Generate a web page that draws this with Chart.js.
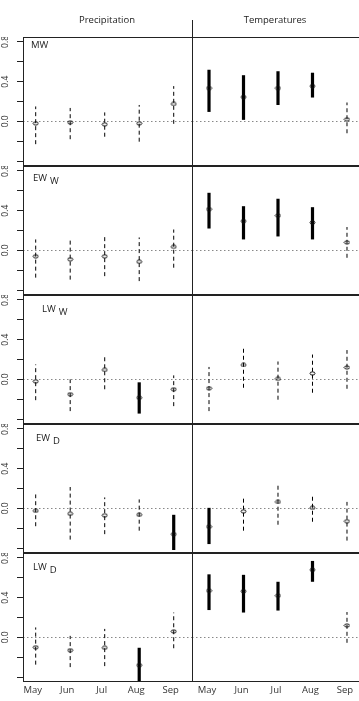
<!DOCTYPE html>
<html>
<head>
<meta charset="utf-8">
<script src="https://cdn.jsdelivr.net/npm/chart.js@4.4.0/dist/chart.umd.min.js"></script>
<style>
  html, body { margin: 0; padding: 0; background: #fff; overflow: hidden; }
  #wrap { position: relative; width: 359px; height: 701px; overflow: hidden; font-family: "Open Sans", sans-serif; color: #222; }
  #wrap canvas { position: absolute; }
  .title { position: absolute; top: 15px; font-size: 9.5px; line-height: 1; white-space: nowrap; transform: translateX(-50%); }
  .lab { position: absolute; font-size: 9.5px; line-height: 1; white-space: nowrap; }
  .lab span { position: relative; top: 3px; margin-left: 3px; }
  .divider { position: absolute; left: 192px; top: 20px; width: 1px; height: 18px; background: #222; }
</style>
</head>
<body>
<div id="wrap"></div>
<script>
const months = ["May", "Jun", "Jul", "Aug", "Sep"];
const columnTitles = ["Precipitation", "Temperatures"];
const rowNames = ["MW", "EW", "LW", "EW", "LW"];
const rowSubs = ["", "W", "W", "D", "D"];
const yTicks = [-0.4, -0.2, 0, 0.2, 0.4, 0.6, 0.8];
const yTickLabels = [0, 0.4, 0.8];

// coefficient estimates and interval ends, one row per panel row
const precipEst = [
  [-0.02, -0.01, -0.03, -0.02, 0.175],
  [-0.06, -0.09, -0.06, -0.115, 0.035],
  [-0.02, -0.15, 0.095, -0.185, -0.10],
  [-0.025, -0.055, -0.07, -0.065, -0.26],
  [-0.10, -0.13, -0.105, -0.28, 0.06]
];
const precipLo = [
  [-0.23, -0.18, -0.155, -0.205, -0.025],
  [-0.275, -0.295, -0.26, -0.31, -0.175],
  [-0.21, -0.32, -0.10, -0.345, -0.27],
  [-0.18, -0.315, -0.26, -0.225, -0.42],
  [-0.275, -0.30, -0.29, -0.48, -0.11]
];
const precipHi = [
  [0.15, 0.135, 0.09, 0.165, 0.355],
  [0.11, 0.10, 0.135, 0.13, 0.21],
  [0.15, 0.0, 0.225, -0.03, 0.04],
  [0.14, 0.215, 0.11, 0.09, -0.065],
  [0.10, 0.015, 0.085, -0.105, 0.25]
];
const precipSig = [
  [0, 0, 0, 0, 0],
  [0, 0, 0, 0, 0],
  [0, 0, 0, 1, 0],
  [0, 0, 0, 0, 1],
  [0, 0, 0, 1, 0]
];

const tempEst = [
  [0.335, 0.245, 0.335, 0.355, 0.02],
  [0.415, 0.295, 0.35, 0.28, 0.08],
  [-0.09, 0.145, 0.005, 0.06, 0.12],
  [-0.185, -0.03, 0.065, 0.005, -0.13],
  [0.47, 0.465, 0.42, 0.68, 0.12]
];
const tempLo = [
  [0.095, 0.015, 0.165, 0.24, -0.12],
  [0.22, 0.11, 0.14, 0.11, -0.075],
  [-0.32, -0.085, -0.205, -0.135, -0.095],
  [-0.36, -0.225, -0.165, -0.135, -0.325],
  [0.275, 0.25, 0.27, 0.56, -0.055]
];
const tempHi = [
  [0.52, 0.465, 0.505, 0.49, 0.19],
  [0.58, 0.445, 0.52, 0.435, 0.235],
  [0.125, 0.315, 0.18, 0.25, 0.295],
  [0.005, 0.10, 0.23, 0.12, 0.065],
  [0.635, 0.63, 0.56, 0.77, 0.255]
];
const tempSig = [
  [1, 1, 1, 1, 0],
  [1, 1, 1, 1, 0],
  [0, 0, 0, 0, 0],
  [1, 0, 0, 0, 0],
  [1, 1, 1, 1, 0]
];

// layout
const rowTop = [37, 166, 295, 424, 553];
const rowH = 129;
const cols = [
  { left: 0, width: 193, axisW: 23, xMin: 0.632, xMax: 5.559, titleX: 107, labelOffset: -3 },
  { left: 192, width: 180, axisW: 0, xMin: 0.507, xMax: 5.725, titleX: 275, labelOffset: -2 }
];
const labelPos = [
  { x: 31, y: 40 }, { x: 33, y: 173 }, { x: 42, y: 304 }, { x: 36, y: 433 }, { x: 33, y: 562 }
];

Chart.defaults.font.family = "Open Sans";
Chart.defaults.color = "#333";

const wrap = document.getElementById("wrap");

function makeMarker() {
  const c = document.createElement("canvas");
  c.width = 7;
  c.height = 5;
  const g = c.getContext("2d");
  g.strokeStyle = "#111";
  g.lineWidth = 1;
  g.beginPath();
  g.ellipse(3.5, 2.5, 2.5, 1.6, 0, 0, Math.PI * 2);
  g.stroke();
  return c;
}
const marker = makeMarker();

const framePlugin = {
  id: "frame",
  beforeDatasetsDraw(chart) {
    const { ctx, chartArea: a } = chart;
    const y0 = Math.round(chart.scales.y.getPixelForValue(0)) + 0.5;
    ctx.save();
    ctx.strokeStyle = "#888";
    ctx.lineWidth = 1;
    ctx.setLineDash([1.5, 2.5]);
    ctx.beginPath();
    ctx.moveTo(a.left, y0);
    ctx.lineTo(a.right, y0);
    ctx.stroke();
    ctx.restore();
  },
  afterDraw(chart) {
    const { ctx, chartArea: a } = chart;
    ctx.save();
    ctx.strokeStyle = "#222";
    ctx.lineWidth = 1;
    ctx.strokeRect(a.left + 0.5, a.top + 0.5, a.right - a.left - 1, a.bottom - a.top - 1);
    ctx.restore();
  }
};

function panelDatasets(est, lo, hi, sig) {
  const sets = months.map((m, i) => ({
    data: [{ x: i + 1, y: lo[i] }, { x: i + 1, y: hi[i] }],
    borderColor: "#000",
    borderWidth: sig[i] ? 3.2 : 1,
    borderDash: sig[i] ? [] : [4, 3],
    pointRadius: 0,
    pointHoverRadius: 0,
    order: 1
  }));
  sets.push({
    data: est.map((v, i) => ({ x: i + 1, y: v })),
    showLine: false,
    pointStyle: marker,
    pointRadius: 3,
    pointHoverRadius: 3,
    order: 0
  });
  return sets;
}

function addPanel(row, colIdx, est, lo, hi, sig) {
  const col = cols[colIdx];
  const bottomRow = row === rowTop.length - 1;
  const canvas = document.createElement("canvas");
  canvas.width = col.width;
  canvas.height = rowH + (bottomRow ? 20 : 0);
  canvas.style.left = col.left + "px";
  canvas.style.top = rowTop[row] + "px";
  wrap.appendChild(canvas);

  new Chart(canvas.getContext("2d"), {
    type: "line",
    data: { datasets: panelDatasets(est, lo, hi, sig) },
    options: {
      responsive: false,
      animation: false,
      events: [],
      layout: { padding: 0, autoPadding: false },
      plugins: { legend: { display: false }, tooltip: { enabled: false } },
      scales: {
        x: {
          type: "linear",
          min: col.xMin,
          max: col.xMax,
          display: bottomRow,
          afterBuildTicks: s => { s.ticks = months.map((m, i) => ({ value: i + 1 })); },
          afterFit: s => {
            s.height = bottomRow ? 20 : 0;
            s.paddingLeft = 0;
            s.paddingRight = 0;
          },
          grid: { display: false, drawTicks: false },
          border: { display: false },
          ticks: {
            autoSkip: false,
            maxRotation: 0,
            padding: 3,
            labelOffset: col.labelOffset,
            font: { size: 9.5 },
            callback: v => months[Math.round(v) - 1]
          }
        },
        y: {
          type: "linear",
          min: -0.45,
          max: 0.85,
          display: colIdx === 0,
          afterBuildTicks: s => { s.ticks = yTicks.map(v => ({ value: v })); },
          afterFit: s => { s.width = col.axisW; s.paddingTop = 0; s.paddingBottom = 0; },
          grid: { drawOnChartArea: false, drawTicks: true, tickLength: 6, color: "#222" },
          border: { display: false },
          ticks: {
            minRotation: 90,
            maxRotation: 90,
            crossAlign: "center",
            padding: 5,
            font: { size: 8.5 },
            callback: v => yTickLabels.some(t => Math.abs(t - v) < 1e-9) ? v.toFixed(1) : ""
          }
        }
      }
    },
    plugins: [framePlugin]
  });
}

for (let r = 0; r < rowTop.length; r++) {
  addPanel(r, 0, precipEst[r], precipLo[r], precipHi[r], precipSig[r]);
  addPanel(r, 1, tempEst[r], tempLo[r], tempHi[r], tempSig[r]);

  const lab = document.createElement("div");
  lab.className = "lab";
  lab.style.left = labelPos[r].x + "px";
  lab.style.top = labelPos[r].y + "px";
  lab.textContent = rowNames[r];
  if (rowSubs[r]) {
    const sub = document.createElement("span");
    sub.textContent = rowSubs[r];
    lab.appendChild(sub);
  }
  wrap.appendChild(lab);
}

columnTitles.forEach((t, i) => {
  const d = document.createElement("div");
  d.className = "title";
  d.style.left = cols[i].titleX + "px";
  d.textContent = t;
  wrap.appendChild(d);
});

const divider = document.createElement("div");
divider.className = "divider";
wrap.appendChild(divider);
</script>
</body>
</html>
